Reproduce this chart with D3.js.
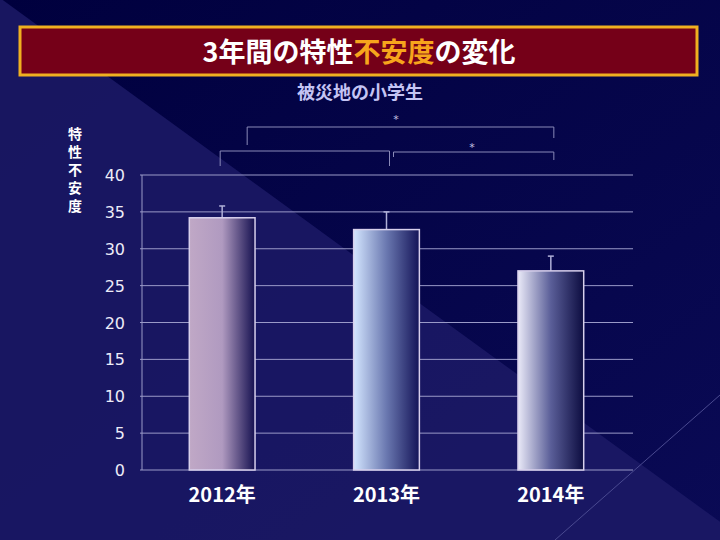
<!DOCTYPE html>
<html><head><meta charset="utf-8">
<script src="https://cdn.jsdelivr.net/npm/d3@7"></script>
<style>body{margin:0;background:#05054a}</style>
</head><body>
<svg id="chart" width="720" height="540"></svg>
<script>
const years = ['2012年', '2013年', '2014年']
const means = [34.2, 32.6, 27.0]
const errTops = [35.8, 35.0, 29.0]
const yTicks = [0, 5, 10, 15, 20, 25, 30, 35, 40]
const gradStops = [
    [['0%', '#c0a8c6'], ['50%', '#b09ac0'], ['100%', '#151050']],
    [['0%', '#d4e6ff'], ['50%', '#6a78b0'], ['100%', '#141458']],
    [['0%', '#eaeaf8'], ['50%', '#5a5e98'], ['100%', '#0c0c40']]
]

const svg = d3.select('#chart')
const defs = svg.append('defs')
const bg = defs.append('linearGradient').attr('id', 'bg').attr('x1', 0).attr('y1', 0).attr('x2', 1).attr('y2', 1)
bg.append('stop').attr('offset', '0%').attr('stop-color', '#00003e')
bg.append('stop').attr('offset', '100%').attr('stop-color', '#0a0a55')
svg.append('rect').attr('width', 720).attr('height', 540).attr('fill', 'url(#bg)')
svg.append('path').attr('d', 'M0,-2 L745,540 L0,540 Z').attr('fill', '#1c1a66').attr('opacity', 0.85)
svg.append('line').attr('x1', 720).attr('y1', 395).attr('x2', 555).attr('y2', 540)
    .attr('stroke', '#4a4a90').attr('stroke-width', 1)

gradStops.forEach((s, i) => {
    const g = defs.append('linearGradient').attr('id', 'g' + i)
    s.forEach(d => g.append('stop').attr('offset', d[0]).attr('stop-color', d[1]))
})

// title
svg.append('rect').attr('x', 20).attr('y', 27).attr('width', 677).attr('height', 48)
    .attr('fill', '#750018').attr('stroke', '#f0b020').attr('stroke-width', 3)
const title = svg.append('text').attr('x', 359).attr('y', 62).attr('text-anchor', 'middle')
    .attr('font-family', 'Noto Sans CJK JP').attr('font-weight', 'bold').attr('font-size', 27).attr('fill', '#fff')
title.append('tspan').text('3年間の特性')
title.append('tspan').attr('fill', '#f7a51c').text('不安度')
title.append('tspan').text('の変化')

svg.append('text').attr('x', 360).attr('y', 99).attr('text-anchor', 'middle')
    .attr('font-family', 'Noto Sans CJK JP').attr('font-weight', 'bold').attr('font-size', 18)
    .attr('fill', '#c4c4f4').text('被災地の小学生')

svg.append('g').selectAll('text').data(Array.from('特性不安度')).join('text')
    .attr('x', 75).attr('y', (c, i) => 139 + i * 18).attr('text-anchor', 'middle')
    .attr('font-family', 'Noto Sans CJK JP').attr('font-weight', 'bold')
    .attr('font-size', 14).attr('fill', '#fff').text(c => c)

const x = d3.scaleBand().domain(years).range([140, 633]).paddingInner(0.6).paddingOuter(0.3)
const y = d3.scaleLinear().domain([0, 40]).range([470, 175])

svg.append('g').selectAll('line').data(yTicks).join('line')
    .attr('x1', 140).attr('x2', 633).attr('y1', d => y(d)).attr('y2', d => y(d))
    .attr('stroke', '#9a9ac8').attr('stroke-width', 1)
svg.append('line').attr('x1', 142).attr('x2', 142).attr('y1', y(0)).attr('y2', y(40)).attr('stroke', '#9a9ac8')

svg.append('g').selectAll('text').data(yTicks).join('text')
    .attr('x', 125).attr('y', d => y(d) + 6).attr('text-anchor', 'end')
    .attr('font-family', 'DejaVu Sans').attr('font-size', 16).attr('fill', '#ececf8')
    .text(d => d)

// error bars
svg.append('g').selectAll('g').data(years).join('g').each(function (d, i) {
    const g = d3.select(this), cx = x(d) + x.bandwidth() / 2
    g.append('line').attr('x1', cx).attr('x2', cx).attr('y1', y(means[i])).attr('y2', y(errTops[i])).attr('stroke', '#b0b0d8').attr('stroke-width', 1.5)
    g.append('line').attr('x1', cx - 3).attr('x2', cx + 3).attr('y1', y(errTops[i])).attr('y2', y(errTops[i])).attr('stroke', '#b0b0d8').attr('stroke-width', 1.5)
})

svg.append('g').selectAll('rect').data(years).join('rect')
    .attr('x', d => x(d)).attr('width', x.bandwidth())
    .attr('y', (d, i) => y(means[i])).attr('height', (d, i) => y(0) - y(means[i]))
    .attr('fill', (d, i) => `url(#g${i})`).attr('stroke', '#d8d0ec').attr('stroke-width', 1.5)

svg.append('g').selectAll('text').data(years).join('text')
    .attr('x', d => x(d) + x.bandwidth() / 2).attr('y', 502).attr('text-anchor', 'middle')
    .attr('font-family', 'Noto Sans CJK JP').attr('font-weight', 'bold').attr('font-size', 20).attr('fill', '#fff')
    .text(d => d)

// significance brackets
const cxs = years.map(d => x(d) + x.bandwidth() / 2)
const br = svg.append('g').attr('fill', 'none').attr('stroke', '#8a8ab8').attr('stroke-width', 1)
br.append('path').attr('d', `M${cxs[0] + 25},145 V127 H${cxs[2] + 3} V138`)
br.append('path').attr('d', `M${cxs[0] - 2},166 V151 H${cxs[1] + 3} V166`)
br.append('path').attr('d', `M${cxs[1] + 7},157 V152 H${cxs[2] + 3} V160`)
svg.selectAll('.star').data([[396, 123], [472, 151]]).join('text')
    .attr('x', d => d[0]).attr('y', d => d[1]).attr('text-anchor', 'middle')
    .attr('font-family', 'DejaVu Sans').attr('font-size', 11).attr('fill', '#c0c0e0').text('*')
</script>
</body></html>
